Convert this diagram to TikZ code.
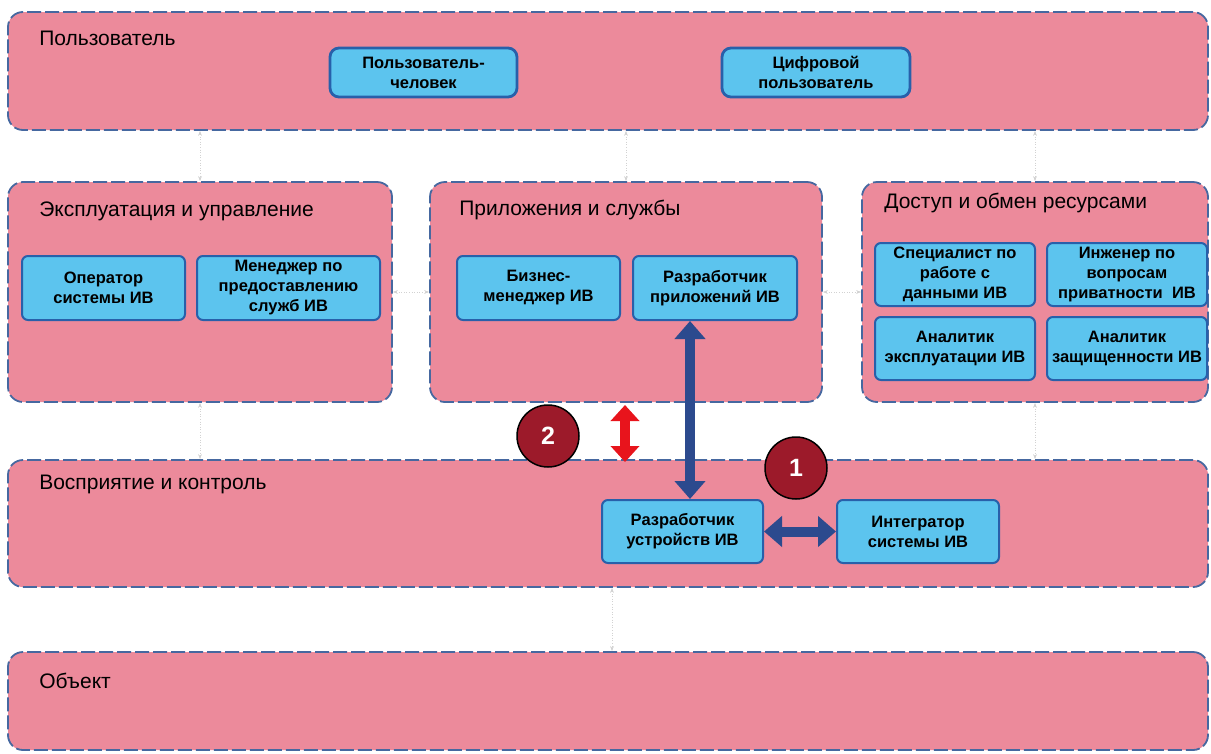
\documentclass[tikz,border=0pt]{standalone}
\usepackage{fontspec}
\setmainfont{Liberation Sans}
\usetikzlibrary{positioning, arrows.meta}

\definecolor{layerpink}{RGB}{236,138,155}
\definecolor{layerline}{RGB}{70,104,160}
\definecolor{rolecyan}{RGB}{92,196,238}
\definecolor{roleline}{RGB}{40,96,170}
\definecolor{linkblue}{RGB}{44,74,142}
\definecolor{linkred}{RGB}{232,20,28}
\definecolor{numred}{RGB}{156,26,42}

\begin{document}
\begin{tikzpicture}[x=1pt, y=-1pt,
	layer/.style={draw=layerline, fill=layerpink, line width=1.8pt, dash pattern=on 14pt off 4pt, rounded corners=15pt, inner sep=0pt},
	role/.style={draw=roleline, fill=rolecyan, line width=2pt, rounded corners=6pt, align=center, inner sep=0pt, font=\bfseries\fontsize{16.5}{20}\selectfont},
	ttl/.style={inner sep=0pt, font=\fontsize{21}{24}\selectfont},
	num/.style={circle, draw=black, fill=numred, line width=1.5pt, minimum size=62pt, inner sep=0pt, text=white, font=\bfseries\fontsize{25}{25}\selectfont},
	faint/.style={<->, >={Stealth[length=5pt]}, gray!35, line width=0.6pt, dotted},
	link/.style={{Triangle[width=30pt, length=18pt]}-{Triangle[width=30pt, length=18pt]}, line width=10pt}]
	\useasboundingbox (0,0) rectangle (1211,753);

	% layers
	\node[layer, minimum width=1200pt, minimum height=118pt] (user) at (608,71) {};
	\node[layer, minimum width=384pt, minimum height=220pt] (ops) at (200,292) {};
	\node[layer, minimum width=392pt, minimum height=220pt] (apps) at (626,292) {};
	\node[layer, minimum width=346pt, minimum height=220pt] (access) at (1035,292) {};
	\node[layer, minimum width=1200pt, minimum height=127pt] (perc) at (608,523.5) {};
	\node[layer, minimum width=1200pt, minimum height=98pt] (obj) at (608,701) {};

	\node[ttl, below right=20pt and 32pt of user.north west] (userT) {Пользователь};
	\node[ttl, below right=21pt and 32pt of ops.north west] (opsT) {Эксплуатация и управление};
	\node[ttl, below right=19pt and 30pt of apps.north west] (appsT) {Приложения и службы};
	\node[ttl, below right=12pt and 23pt of access.north west] (accessT) {Доступ и обмен ресурсами};
	\node[ttl, below right=16pt and 32pt of perc.north west] (percT) {Восприятие и контроль};
	\node[ttl, below right=22pt and 32pt of obj.north west] (objT) {Объект};

	% roles
	\node[role, line width=2.8pt, rounded corners=9pt, minimum width=187pt, minimum height=49pt] (human) at (423.5,72.5) {Пользователь-\\человек};
	\node[role, line width=2.8pt, rounded corners=9pt, minimum width=188pt, minimum height=49pt] (digital) at (816,72.5) {Цифровой\\пользователь};

	\node[role, minimum width=163pt, minimum height=64pt] (sysop) at (103.5,288) {Оператор\\системы ИВ};
	\node[role, minimum width=183pt, minimum height=64pt, right=10pt of sysop] (svcmgr) {Менеджер по\\предоставлению\\служб ИВ};

	\node[role, minimum width=163pt, minimum height=64pt] (bizmgr) at (538.5,288) {Бизнес-\\менеджер ИВ};
	\node[role, minimum width=164pt, minimum height=64pt, right=11pt of bizmgr] (appdev) {Разработчик\\приложений ИВ};

	\node[role, minimum width=160pt, minimum height=63pt] (datasp) at (955,274.5) {Специалист по\\работе с\\данными ИВ};
	\node[role, minimum width=160pt, minimum height=63pt, right=10pt of datasp] (priveng) {Инженер по\\вопросам\\приватности\ \ ИВ};
	\node[role, minimum width=160pt, minimum height=63pt, below=9pt of datasp] (opsan) {Аналитик\\эксплуатации ИВ};
	\node[role, minimum width=160pt, minimum height=63pt, below=9pt of priveng] (secan) {Аналитик\\защищенности ИВ};

	\node[role, minimum width=161pt, minimum height=63pt] (devdev) at (682.5,531.5) {Разработчик\\устройств ИВ};
	\node[role, minimum width=162pt, minimum height=63pt, right=72pt of devdev] (integr) {Интегратор\\системы ИВ};

	% faint links between layers
	\draw[faint] (user.south -| ops.north) -- (ops.north);
	\draw[faint] (user.south -| apps.north) -- (apps.north);
	\draw[faint] (user.south -| access.north) -- (access.north);
	\draw[faint] (ops.south) -- (ops.south |- perc.north);
	\draw[faint] (access.south) -- (access.south |- perc.north);
	\draw[faint] (ops.east) -- (apps.west);
	\draw[faint] (apps.east) -- (access.west);
	\draw[faint] ([xshift=-14pt]perc.south -| apps.south) -- ([xshift=-14pt]obj.north -| apps.south);

	% marked links
	\coordinate (redtop) at (625,405);
	\coordinate (redbot) at (625,462);
	\coordinate (devtop) at ([xshift=7.5pt]devdev.north);
	\draw[link, linkred, {Triangle[width=28pt, length=16pt]}-{Triangle[width=28pt, length=16pt]}] (redtop) -- (redbot);
	\draw[link, linkblue] (devtop |- appdev.south) -- (devtop);
	\draw[link, linkblue] (devdev.east) -- (integr.west);

	\node[num] (n2) at (548,436) {2};
	\node[num] (n1) at (796,468) {1};
\end{tikzpicture}
\end{document}
